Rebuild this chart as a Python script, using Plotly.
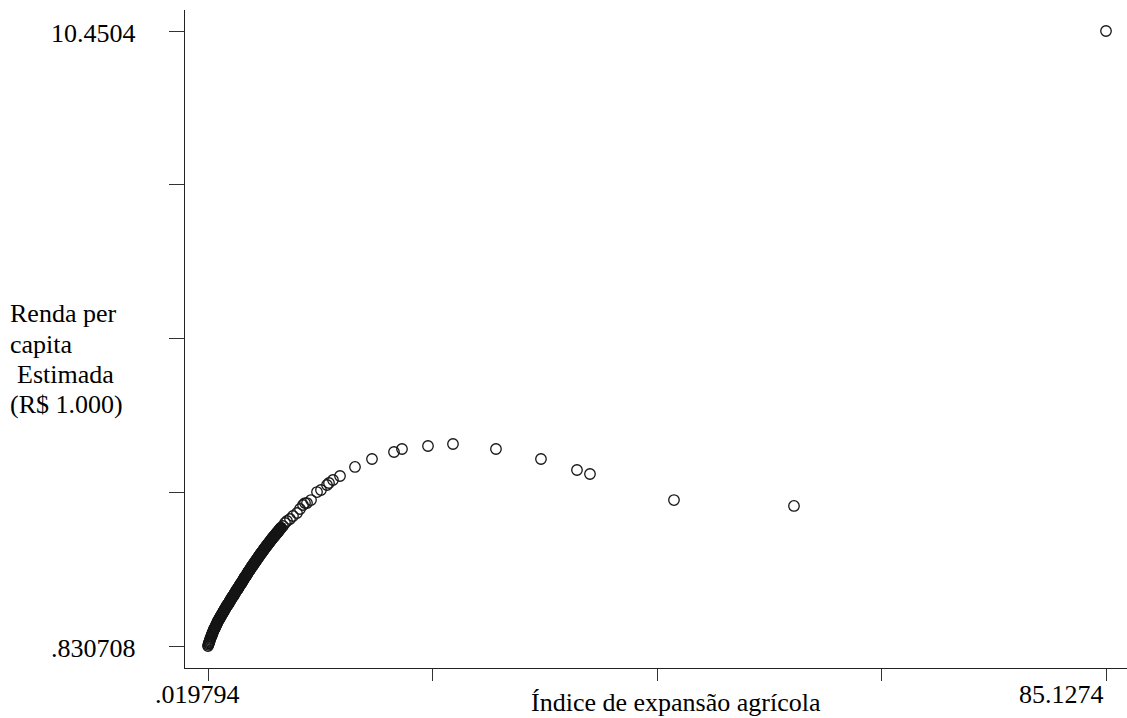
import plotly.graph_objects as go

# ---- data ----
x_min, x_max = 0.019794, 85.1274
y_min, y_max = 0.830708, 10.4504

dense_x = [0.02, 0.09, 0.16, 0.23, 0.30, 0.37, 0.44, 0.51, 0.58, 0.65,
           0.72, 0.79, 0.86, 0.93, 1.00, 1.07, 1.14, 1.21, 1.28, 1.35,
           1.42, 1.49, 1.56, 1.63, 1.70, 1.77, 1.84, 1.91, 1.98, 2.05,
           2.12, 2.19, 2.26, 2.33, 2.40, 2.47, 2.54, 2.61, 2.68, 2.75,
           2.82, 2.89, 2.96, 3.03, 3.10, 3.17, 3.24, 3.31, 3.38, 3.45,
           3.52, 3.59, 3.66, 3.73, 3.80, 3.87, 3.94, 4.01, 4.08, 4.15,
           4.22, 4.29, 4.36, 4.43, 4.50, 4.57, 4.64, 4.71, 4.78, 4.85,
           4.92, 4.99, 5.06, 5.13, 5.20, 5.27, 5.34, 5.41, 5.48, 5.55,
           5.62, 5.69, 5.76, 5.83, 5.90, 5.97, 6.04, 6.11, 6.18, 6.25,
           6.32, 6.39, 6.46, 6.53, 6.60, 6.67, 6.74, 6.81, 6.88, 6.95]
dense_y = [0.83, 0.87, 0.90, 0.94, 0.97, 1.00, 1.03, 1.06, 1.09, 1.11,
           1.13, 1.16, 1.18, 1.21, 1.23, 1.25, 1.27, 1.29, 1.31, 1.33,
           1.35, 1.37, 1.39, 1.41, 1.43, 1.45, 1.47, 1.48, 1.50, 1.52,
           1.54, 1.56, 1.58, 1.60, 1.61, 1.63, 1.65, 1.67, 1.69, 1.71,
           1.72, 1.74, 1.76, 1.78, 1.80, 1.81, 1.83, 1.85, 1.87, 1.89,
           1.91, 1.92, 1.94, 1.96, 1.98, 2.00, 2.01, 2.03, 2.05, 2.07,
           2.08, 2.10, 2.12, 2.13, 2.15, 2.17, 2.18, 2.20, 2.22, 2.23,
           2.25, 2.27, 2.28, 2.30, 2.31, 2.33, 2.35, 2.36, 2.38, 2.39,
           2.41, 2.42, 2.44, 2.45, 2.47, 2.48, 2.50, 2.51, 2.53, 2.54,
           2.55, 2.57, 2.58, 2.60, 2.61, 2.62, 2.64, 2.65, 2.67, 2.68]

dense2_x = [0.055, 0.125, 0.195, 0.265, 0.335, 0.405, 0.475, 0.545, 0.615, 0.685,
            0.755, 0.825, 0.895, 0.965, 1.035, 1.105, 1.175, 1.245, 1.315, 1.385,
            1.455, 1.525, 1.595, 1.665, 1.735, 1.805, 1.875, 1.945, 2.015, 2.085,
            2.155, 2.225, 2.295, 2.365, 2.435, 2.505, 2.575, 2.645, 2.715, 2.785,
            2.855, 2.925, 2.995, 3.065, 3.135, 3.205, 3.275, 3.345, 3.415, 3.485,
            3.555, 3.625, 3.695, 3.765, 3.835, 3.905, 3.975, 4.045, 4.115, 4.185,
            4.255, 4.325, 4.395, 4.465, 4.535, 4.605, 4.675, 4.745, 4.815, 4.885,
            4.955, 5.025, 5.095, 5.165, 5.235, 5.305, 5.375, 5.445, 5.515, 5.585,
            5.655, 5.725, 5.795, 5.865, 5.935, 6.005, 6.075, 6.145, 6.215, 6.285,
            6.355, 6.425, 6.495, 6.565, 6.635, 6.705, 6.775, 6.845, 6.915]
dense2_y = [0.85, 0.885, 0.92, 0.955, 0.985, 1.015, 1.045, 1.075, 1.10, 1.12,
            1.145, 1.17, 1.195, 1.22, 1.24, 1.26, 1.28, 1.30, 1.32, 1.34,
            1.36, 1.38, 1.40, 1.42, 1.44, 1.46, 1.475, 1.49, 1.51, 1.53,
            1.55, 1.57, 1.59, 1.605, 1.62, 1.64, 1.66, 1.68, 1.70, 1.715,
            1.73, 1.75, 1.77, 1.79, 1.805, 1.82, 1.84, 1.86, 1.88, 1.90,
            1.915, 1.93, 1.95, 1.97, 1.99, 2.005, 2.02, 2.04, 2.06, 2.075,
            2.09, 2.11, 2.125, 2.14, 2.16, 2.175, 2.19, 2.21, 2.225, 2.24,
            2.26, 2.275, 2.29, 2.305, 2.32, 2.34, 2.355, 2.37, 2.385, 2.40,
            2.415, 2.43, 2.445, 2.46, 2.475, 2.49, 2.505, 2.52, 2.535, 2.545,
            2.56, 2.575, 2.59, 2.605, 2.615, 2.63, 2.645, 2.66, 2.675]

sparse_x = [7.128, 7.317, 7.507, 7.791, 8.075, 8.454, 8.739, 9.023, 9.213,
            9.402, 9.781, 10.350, 10.729, 11.298, 11.487, 11.866, 12.530,
            13.951, 15.562, 17.647, 18.405, 20.869, 23.238, 27.313, 31.578,
            34.990, 36.222, 44.183, 55.556, 85.1274]
sparse_y = [2.708, 2.755, 2.786, 2.817, 2.864, 2.911, 2.974, 3.036, 3.067,
            3.067, 3.114, 3.239, 3.271, 3.349, 3.380, 3.427, 3.490,
            3.631, 3.756, 3.865, 3.912, 3.959, 3.990, 3.912, 3.756,
            3.584, 3.521, 3.114, 3.021, 10.4504]

x_tick_labels = [".019794", "85.1274"]
y_tick_labels = [".830708", "10.4504"]
x_title = "Índice de expansão agrícola"
y_title_lines = ["Renda per", "capita", " Estimada", "(R$ 1.000)"]

# ---- layout geometry ----
W, H = 1127, 718
ML, MR, MT, MB = 185, 0, 10, 50
PW, PH = W - ML - MR, H - MT - MB

# axis ranges so that min/max land where the reference puts them
x_step = (x_max - x_min) / (1106 - 208)
y_step = (y_max - y_min) / (646 - 31)
x_range = [x_min - (208 - ML) * x_step, x_max + (W - MR - 1106) * x_step]
y_range = [y_min - (H - MB - 646) * y_step, y_max + (31 - MT) * y_step]

x_ticks = [x_min + i * (x_max - x_min) / 4 for i in range(5)]
y_ticks = [y_min + i * (y_max - y_min) / 4 for i in range(5)]

FONT = "Liberation Serif, Times New Roman, serif"
FS = 26

def px_x(px):
    return (px - ML) / PW

def px_y(py):
    return (H - MB - py) / PH

all_x = dense_x + dense2_x + sparse_x
all_y = dense_y + dense2_y + sparse_y

fig = go.Figure()
fig.add_trace(go.Scatter(
    x=all_x, y=all_y, mode="markers",
    marker=dict(symbol="circle-open", size=10.5, color="#151515",
                line=dict(width=1.3, color="#151515")),
    hoverinfo="x+y", showlegend=False))

fig.update_layout(
    width=W, height=H,
    margin=dict(l=ML, r=MR, t=MT, b=MB, pad=0),
    paper_bgcolor="white", plot_bgcolor="white",
    font=dict(family=FONT, size=FS, color="black"),
    xaxis=dict(range=x_range, tickvals=x_ticks, showticklabels=False,
               ticks="outside", ticklen=12, tickwidth=1, tickcolor="#333",
               showline=True, linecolor="#222", linewidth=1,
               showgrid=False, zeroline=False),
    yaxis=dict(range=y_range, tickvals=y_ticks, showticklabels=False,
               ticks="outside", ticklen=15, tickwidth=1, tickcolor="#333",
               showline=True, linecolor="#222", linewidth=1,
               showgrid=False, zeroline=False),
)

ann = []
# x tick labels
ann.append(dict(x=x_min, xref="x", y=px_y(694), yref="paper",
                text=x_tick_labels[0], showarrow=False,
                xanchor="center", yanchor="middle", xshift=-11))
ann.append(dict(x=x_max, xref="x", y=px_y(694), yref="paper",
                text=x_tick_labels[1], showarrow=False,
                xanchor="right", yanchor="middle"))
# y tick labels
ann.append(dict(x=px_x(138), xref="paper", y=y_min, yref="y",
                text=y_tick_labels[0], showarrow=False,
                xanchor="right", yanchor="middle", yshift=-2))
ann.append(dict(x=px_x(138), xref="paper", y=y_max, yref="y",
                text=y_tick_labels[1], showarrow=False,
                xanchor="right", yanchor="middle", yshift=-2))
# x title
ann.append(dict(x=px_x(676), xref="paper", y=px_y(703), yref="paper",
                text=x_title, showarrow=False,
                xanchor="center", yanchor="middle"))
# y title (one line each)
for i, line in enumerate(y_title_lines):
    shift = 7 if line.startswith(" ") else 0
    ann.append(dict(x=px_x(8 + shift), xref="paper", y=px_y(314 + 30 * i),
                    yref="paper", text=line.strip(), showarrow=False,
                    xanchor="left", yanchor="middle"))
fig.update_layout(annotations=ann)

fig.write_html("out.html",
               config={"displayModeBar": False},
               post_script="document.body.style.margin='0';"
                           "document.body.style.overflow='hidden';")
